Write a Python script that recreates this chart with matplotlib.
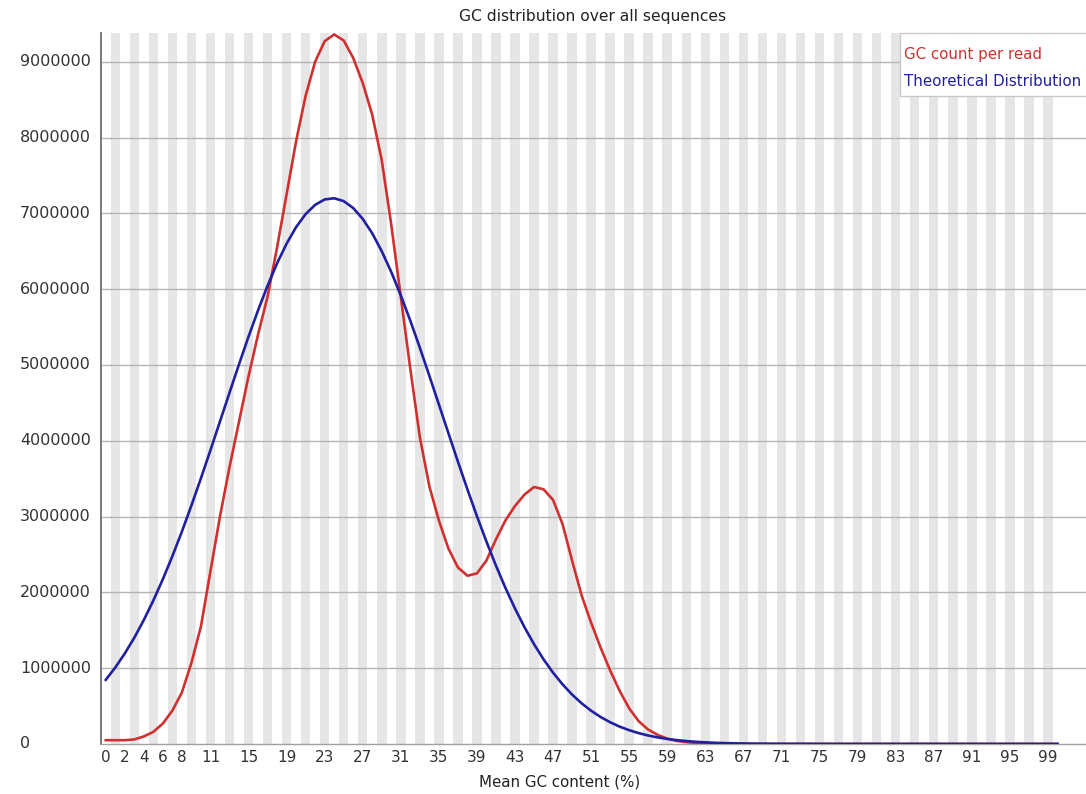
import matplotlib
matplotlib.use("Agg")
import matplotlib.pyplot as plt
import matplotlib.transforms as mtransforms
from matplotlib.patches import Rectangle

# GC content bins 0..100 (%)
gc_bins = list(range(101))

# observed reads per GC bin, in millions
gc_count_m = [
    0.05, 0.05, 0.05, 0.06, 0.10, 0.16, 0.27, 0.44, 0.68, 1.07,
    1.55, 2.28, 3.00, 3.65, 4.25, 4.85, 5.40, 5.90, 6.55, 7.25,
    7.95, 8.55, 9.00, 9.27, 9.36, 9.28, 9.05, 8.72, 8.30, 7.70,
    6.85, 5.90, 4.95, 4.05, 3.40, 2.95, 2.58, 2.33, 2.22, 2.25,
    2.42, 2.70, 2.95, 3.14, 3.29, 3.39, 3.36, 3.22, 2.90, 2.42,
    1.96, 1.60, 1.27, 0.97, 0.70, 0.47, 0.30, 0.19, 0.12, 0.07,
    0.04, 0.025, 0.015, 0.010, 0.007, 0.005, 0.004, 0.003, 0.003, 0.002,
    0.002, 0.002, 0.002, 0.002, 0.002, 0.002, 0.002, 0.002, 0.002, 0.002,
    0.002, 0.002, 0.002, 0.002, 0.002, 0.002, 0.002, 0.002, 0.002, 0.002,
    0.002, 0.002, 0.002, 0.002, 0.002, 0.002, 0.002, 0.002, 0.002, 0.002,
    0.002,
]

# theoretical (normal) distribution, in millions
theory_m = [
    0.846, 1.009, 1.194, 1.402, 1.636, 1.893, 2.174, 2.478, 2.802, 3.146,
    3.505, 3.876, 4.254, 4.633, 5.008, 5.373, 5.720, 6.045, 6.340, 6.600,
    6.818, 6.990, 7.112, 7.183, 7.199, 7.161, 7.070, 6.927, 6.736, 6.500,
    6.226, 5.918, 5.584, 5.228, 4.858, 4.480, 4.102, 3.726, 3.359, 3.006,
    2.670, 2.353, 2.058, 1.787, 1.540, 1.317, 1.117, 0.941, 0.787, 0.652,
    0.537, 0.439, 0.356, 0.287, 0.229, 0.182, 0.143, 0.112, 0.087, 0.067,
    0.051, 0.039, 0.029, 0.022, 0.016, 0.012, 0.009, 0.006, 0.004, 0.003,
    0.002, 0.001, 0.001, 0.001, 0.001, 0.0, 0.0, 0.0, 0.0, 0.0,
    0.0, 0.0, 0.0, 0.0, 0.0, 0.0, 0.0, 0.0, 0.0, 0.0,
    0.0, 0.0, 0.0, 0.0, 0.0, 0.0, 0.0, 0.0, 0.0, 0.0,
    0.0,
]

x_tick_pos = [0, 2, 4, 6, 8] + list(range(11, 100, 4))
y_ticks = [0, 1000000, 2000000, 3000000, 4000000, 5000000,
           6000000, 7000000, 8000000, 9000000]

title = "GC distribution over all sequences"
x_title = "Mean GC content (%)"
series_names = ["GC count per read", "Theoretical Distribution"]

red = "#d03030"
blue = "#2020a0"

W, H = 1086, 794
fig = plt.figure(figsize=(W / 100, H / 100), dpi=100)
fig.patch.set_facecolor("white")

# axes box in pixel terms: left 101, right 1086, top 33, bottom 744
ax = fig.add_axes([101 / W, (H - 744) / H, (W - 101) / W, (744 - 33) / H])
ax.set_facecolor("white")

gc_count = [v * 1e6 for v in gc_count_m]
theory = [v * 1e6 for v in theory_m]

ax.set_xlim(-0.5, 103.0)
ax.set_ylim(0, max(gc_count) * 1.002)

# alternating column shading, one column per GC bin
for i in gc_bins:
    if i % 2 == 1:
        ax.axvspan(i - 0.5, i + 0.5, color="#e6e6e6", lw=0, zorder=0)

# horizontal guide lines
for yv in y_ticks[1:]:
    ax.axhline(yv, color="#b4b4b4", lw=1.0, zorder=1)

ax.plot(gc_bins, gc_count, color=red, lw=1.9, zorder=3)
ax.plot(gc_bins, theory, color=blue, lw=1.9, zorder=4)

for side in ["top", "right"]:
    ax.spines[side].set_visible(False)
ax.spines["left"].set_color("#707070")
ax.spines["left"].set_linewidth(1.3)
ax.spines["bottom"].set_color("#a0a0a0")
ax.spines["bottom"].set_linewidth(1.0)

ax.set_xticks(x_tick_pos)
ax.set_xticklabels([str(v) for v in x_tick_pos], fontsize=11, color="#333333")
ax.tick_params(axis="x", length=0, pad=4.5)
ax.set_yticks([])

# y labels sit flush left in the margin
trans = mtransforms.blended_transform_factory(fig.transFigure, ax.transData)
for yv in y_ticks:
    ax.text(20 / W, yv, str(yv), transform=trans, ha="left", va="center",
            fontsize=11.5, color="#333333")

fig.text(593 / W, 1 - 16 / H, title, ha="center", va="center",
         fontsize=11.2, color="#222222")
fig.text(560 / W, 1 - 782 / H, x_title, ha="center", va="center",
         fontsize=10.8, color="#222222")

# legend box, running off the right edge
fig.patches.append(Rectangle((900 / W, 1 - 96 / H), 200 / W, 63 / H,
                             transform=fig.transFigure, facecolor="white",
                             edgecolor="#c8c8c8", lw=1.0, zorder=5))
fig.text(904 / W, 1 - 55 / H, series_names[0], ha="left", va="center",
         fontsize=10.8, color=red, zorder=6)
fig.text(904 / W, 1 - 82 / H, series_names[1], ha="left", va="center",
         fontsize=10.8, color=blue, zorder=6)

fig.savefig("out.png", dpi=100)
